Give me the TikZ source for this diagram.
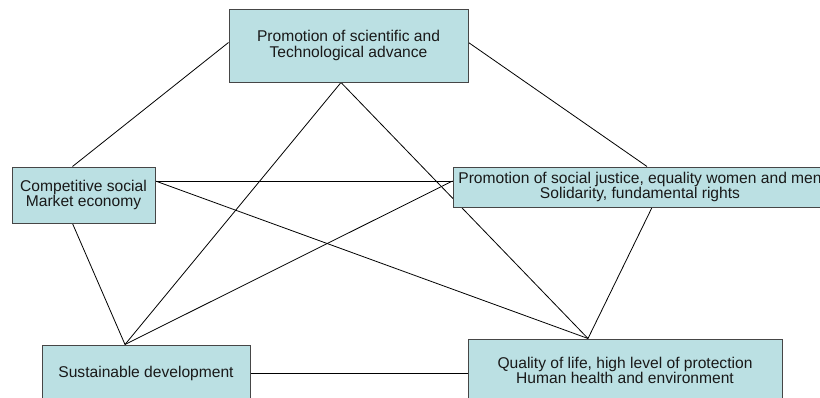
\documentclass[tikz,border=0pt]{standalone}
\usepackage{fontspec}
\setmainfont{Liberation Sans}
\usetikzlibrary{calc,backgrounds}
\definecolor{boxfill}{RGB}{187,224,227}
\definecolor{boxline}{RGB}{70,70,70}
\tikzset{
  box/.style={draw=boxline, line width=1pt, fill=boxfill, rectangle, inner sep=0pt,
    align=center, font=\fontsize{15.6}{15.6}\selectfont, text=black!90},
  link/.style={draw=black, line width=0.8pt}
}
\begin{document}
\begin{tikzpicture}[x=1pt,y=-1pt]
\useasboundingbox (0,0) rectangle (820,397);
\clip (0,0) rectangle (820,397);
\node[box, minimum width=239pt, minimum height=73pt] (top) at (348.5,45.5) {Promotion of scientific and\\Technological advance};
\node[box, minimum width=143pt, minimum height=56pt] (comp) at (83.5,195) {Competitive social\\Market economy};
\node[box, minimum width=374pt, minimum height=40pt] (soc) at (640,187) {Promotion of social justice, equality women and men\\Solidarity, fundamental rights};
\node[box, minimum width=208pt, minimum height=56pt] (sus) at (146,373) {Sustainable development};
\node[box, minimum width=314pt, minimum height=63pt] (qual) at (625,370.5) {Quality of life, high level of protection\\Human health and environment};
% attachment points
\coordinate (topW) at ($(top.west)+(0,-3)$);
\coordinate (topE) at ($(top.east)+(0,-3)$);
\coordinate (topS) at ($(top.south)+(-7.5,0)$);
\coordinate (compN) at ($(comp.north)+(-11,0)$);
\coordinate (compE) at ($(comp.east)+(0,-14)$);
\coordinate (compS) at ($(comp.south)+(-11,0)$);
\coordinate (socN) at ($(soc.north)+(7,0)$);
\coordinate (socW) at ($(soc.west)+(0,-6)$);
\coordinate (socS) at ($(soc.south)+(12,0)$);
\coordinate (susN) at ($(sus.north)+(-21,0)$);
\coordinate (qualN) at ($(qual.north)+(-37,0)$);
\begin{pgfonlayer}{background}
\draw[link] (topW) -- (compN);
\draw[link] (topE) -- (socN);
\draw[link] (topS) -- (susN);
\draw[link] (topS) -- (qualN);
\draw[link] (compE) -- (socW);
\draw[link] (compE) -- (qualN);
\draw[link] (compS) -- (susN);
\draw[link] (socW) -- (susN);
\draw[link] (socS) -- (qualN);
\draw[link] (sus.east) -- (sus.east -| qual.west);
\end{pgfonlayer}
\end{tikzpicture}
\end{document}
